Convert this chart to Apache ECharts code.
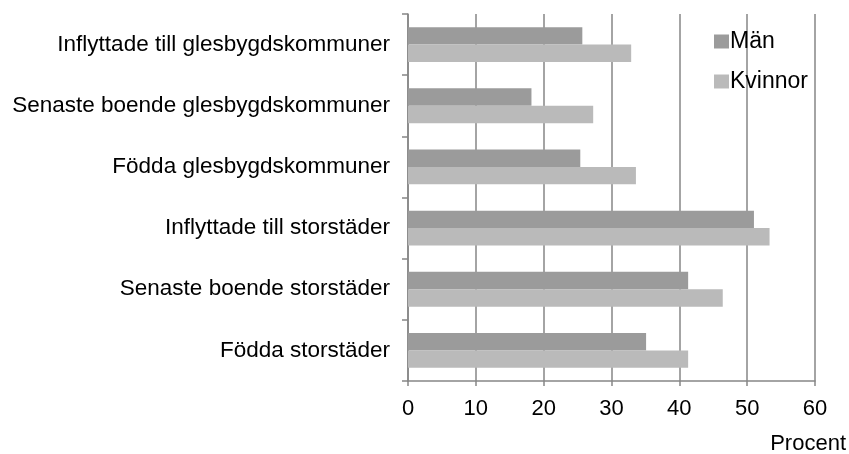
<!DOCTYPE html>
<html>
<head>
<meta charset="utf-8">
<script src="https://cdn.jsdelivr.net/npm/echarts@6/dist/echarts.min.js"></script>
<style>
  html, body { margin: 0; padding: 0; background: #fff; }
  #main { width: 849px; height: 454px; }
</style>
</head>
<body>
<div id="main"></div>
<script>
// data (percent)
var categories = [
  'Inflyttade till glesbygdskommuner',
  'Senaste boende glesbygdskommuner',
  'Födda glesbygdskommuner',
  'Inflyttade till storstäder',
  'Senaste boende storstäder',
  'Födda storstäder'
];
var man = [25.7, 18.2, 25.4, 51.0, 41.3, 35.1];
var kvinnor = [32.9, 27.3, 33.6, 53.3, 46.4, 41.3];
var xTicks = [0, 10, 20, 30, 40, 50, 60];

var font = 'Liberation Sans, Arial, sans-serif';
var gray = '#868686';

var myChart = echarts.init(document.getElementById('main'));
var option = {
  animation: false,
  textStyle: { fontFamily: font },
  title: {
    text: 'Procent',
    right: -2,
    top: 428,
    textStyle: { fontSize: 22, fontWeight: 'normal', color: '#000', fontFamily: font }
  },
  legend: {
    orient: 'vertical',
    left: 709,
    top: 25,
    itemWidth: 15,
    itemHeight: 14,
    itemGap: 17,
    icon: 'rect',
    textStyle: { fontSize: 23, color: '#000', padding: [0, 0, 0, -4] },
    data: ['Män', 'Kvinnor']
  },
  grid: {
    left: 408,
    right: 34,
    top: 14,
    bottom: 73
  },
  xAxis: {
    type: 'value',
    min: xTicks[0],
    max: xTicks[xTicks.length - 1],
    interval: 10,
    axisLine: { show: true, lineStyle: { color: gray, width: 1.5 } },
    axisTick: { show: true, length: 5, lineStyle: { color: gray, width: 1.5 } },
    axisLabel: { fontSize: 22, color: '#000', margin: 17 },
    splitLine: { show: true, lineStyle: { color: gray, width: 1.5 } }
  },
  yAxis: {
    type: 'category',
    inverse: true,
    data: categories,
    axisLine: { show: true, lineStyle: { color: gray, width: 1.5 } },
    axisTick: { show: true, length: 6, lineStyle: { color: gray, width: 1.5 } },
    axisLabel: { fontSize: 22.5, color: '#000', margin: 18 }
  },
  series: [
    {
      name: 'Män',
      type: 'bar',
      data: man,
      itemStyle: { color: '#9b9b9b' },
      barGap: '0%',
      barCategoryGap: '43%'
    },
    {
      name: 'Kvinnor',
      type: 'bar',
      data: kvinnor,
      itemStyle: { color: '#bababa' },
      barGap: '0%',
      barCategoryGap: '43%'
    }
  ]
};
myChart.setOption(option);
window.addEventListener('resize', function () {
  myChart.resize();
});
</script>
</body>
</html>
